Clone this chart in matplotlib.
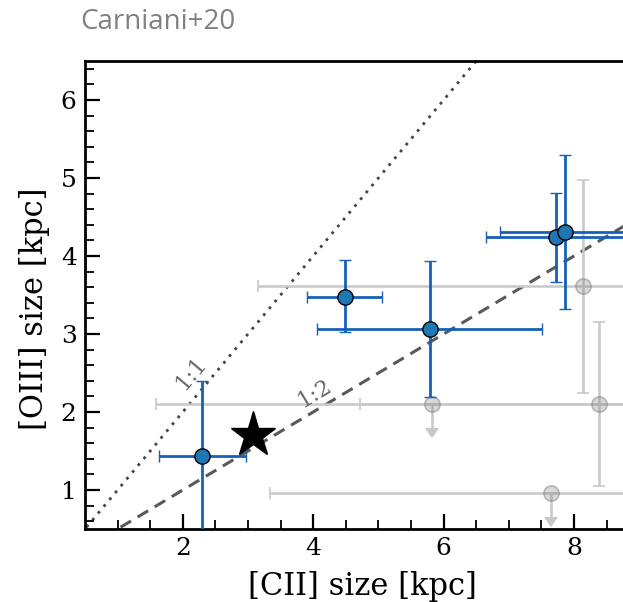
import matplotlib
matplotlib.use("Agg")
import matplotlib.pyplot as plt
import numpy as np

# Detected sources: [CII] and [OIII] sizes (kpc) with asymmetric errors
det_cii = [2.30, 4.49, 5.79, 7.72, 7.86]
det_cii_lo = [0.66, 0.59, 1.73, 1.07, 0.99]
det_cii_hi = [0.67, 0.56, 1.72, 1.07, 0.99]
det_oiii = [1.44, 3.48, 3.07, 4.24, 4.31]
det_oiii_lo = [1.44, 0.46, 0.88, 0.57, 0.99]
det_oiii_hi = [0.96, 0.47, 0.87, 0.57, 0.98]

# Comparison sample (Carniani+20), measured sizes
cmp_cii = [8.14, 8.39]
cmp_cii_lo = [4.98, 6.80]
cmp_cii_hi = [4.98, 6.80]
cmp_oiii = [3.62, 2.10]
cmp_oiii_lo = [1.37, 1.05]
cmp_oiii_hi = [1.35, 1.05]

# Comparison sample, [OIII] upper limits
lim_cii = [5.82, 7.64]
lim_cii_lo = [1.10, 4.30]
lim_cii_hi = [3.50, 4.30]
lim_oiii = [2.10, 0.96]
lim_oiii_arrow = [0.30, 0.30]

# Highlighted source
star_cii = [3.07]
star_oiii = [1.71]

fig = plt.figure(figsize=(6.23, 6.02), dpi=100)
ax = fig.add_axes([85 / 623, 73 / 602, 8.5 * 65.2 / 623, 468 / 602])

ax.set_xlim(0.5, 9.0)
ax.set_ylim(0.5, 6.5)

xx = np.array([0.0, 14.0])
ax.plot(xx, xx, ls=(0, (1, 2.2)), color="#444444", lw=2.0, zorder=1)
ax.plot(xx, xx / 2, ls=(0, (4, 2.5)), color="#5a5a5a", lw=2.2, zorder=1)

ax.text(2.13, 2.50, "1:1", rotation=50, color="#666666", fontsize=16,
        family="DejaVu Serif", ha="center", va="center")
ax.text(4.02, 2.23, "1:2", rotation=31, color="#666666", fontsize=16,
        family="DejaVu Serif", ha="center", va="center")

gray = "#c8c8c8"
ax.errorbar(cmp_cii, cmp_oiii, xerr=[cmp_cii_lo, cmp_cii_hi],
            yerr=[cmp_oiii_lo, cmp_oiii_hi], fmt="o", ms=11, color=gray,
            mfc=(0.5, 0.5, 0.5, 0.3), mec=(0.5, 0.5, 0.5, 0.5), mew=1.2,
            ecolor=gray, elinewidth=1.8, capsize=4.3, capthick=1.5, zorder=2)
ax.errorbar(lim_cii, lim_oiii, xerr=[lim_cii_lo, lim_cii_hi], yerr=lim_oiii_arrow,
            uplims=True, fmt="o", ms=11, color=gray,
            mfc=(0.5, 0.5, 0.5, 0.3), mec=(0.5, 0.5, 0.5, 0.5), mew=1.2,
            ecolor=gray, elinewidth=1.8, capsize=4.3, capthick=1.5, zorder=2)

ax.errorbar(det_cii, det_oiii, xerr=[det_cii_lo, det_cii_hi],
            yerr=[det_oiii_lo, det_oiii_hi], fmt="o", ms=11,
            mfc="#1f77b4", mec="black", mew=1.0,
            ecolor="#1560b8", elinewidth=2.0, capsize=4.2, capthick=1.6,
            zorder=4)

ax.plot(star_cii, star_oiii, marker="*", ms=34, color="black", ls="none",
        zorder=5)

ax.set_xticks([2, 4, 6, 8])
ax.set_yticks([1, 2, 3, 4, 5, 6])
ax.set_xticks(np.arange(1.0, 9.0, 0.5), minor=True)
ax.set_yticks(np.arange(0.6, 6.5, 0.2), minor=True)
ax.tick_params(which="both", direction="in", top=False, right=False)
ax.tick_params(which="major", length=11, width=1.6, labelsize=18, pad=6)
ax.tick_params(which="minor", length=6.5, width=1.3)
for lab in ax.get_xticklabels() + ax.get_yticklabels():
    lab.set_family("DejaVu Serif")
for sp in ax.spines.values():
    sp.set_linewidth(2.0)

ax.set_xlabel("[CII] size [kpc]", fontsize=22, family="DejaVu Serif")
ax.set_ylabel("[OIII] size [kpc]", fontsize=22, family="DejaVu Serif")
ax.xaxis.set_label_coords(0.5, -0.09)
ax.yaxis.set_label_coords(-0.063, 0.47)

fig.text(80 / 623, 1 - 22 / 602, "Carniani+20", color="#808080", fontsize=20,
         family="Open Sans", ha="left", va="center")

fig.savefig("out.png", dpi=100)
